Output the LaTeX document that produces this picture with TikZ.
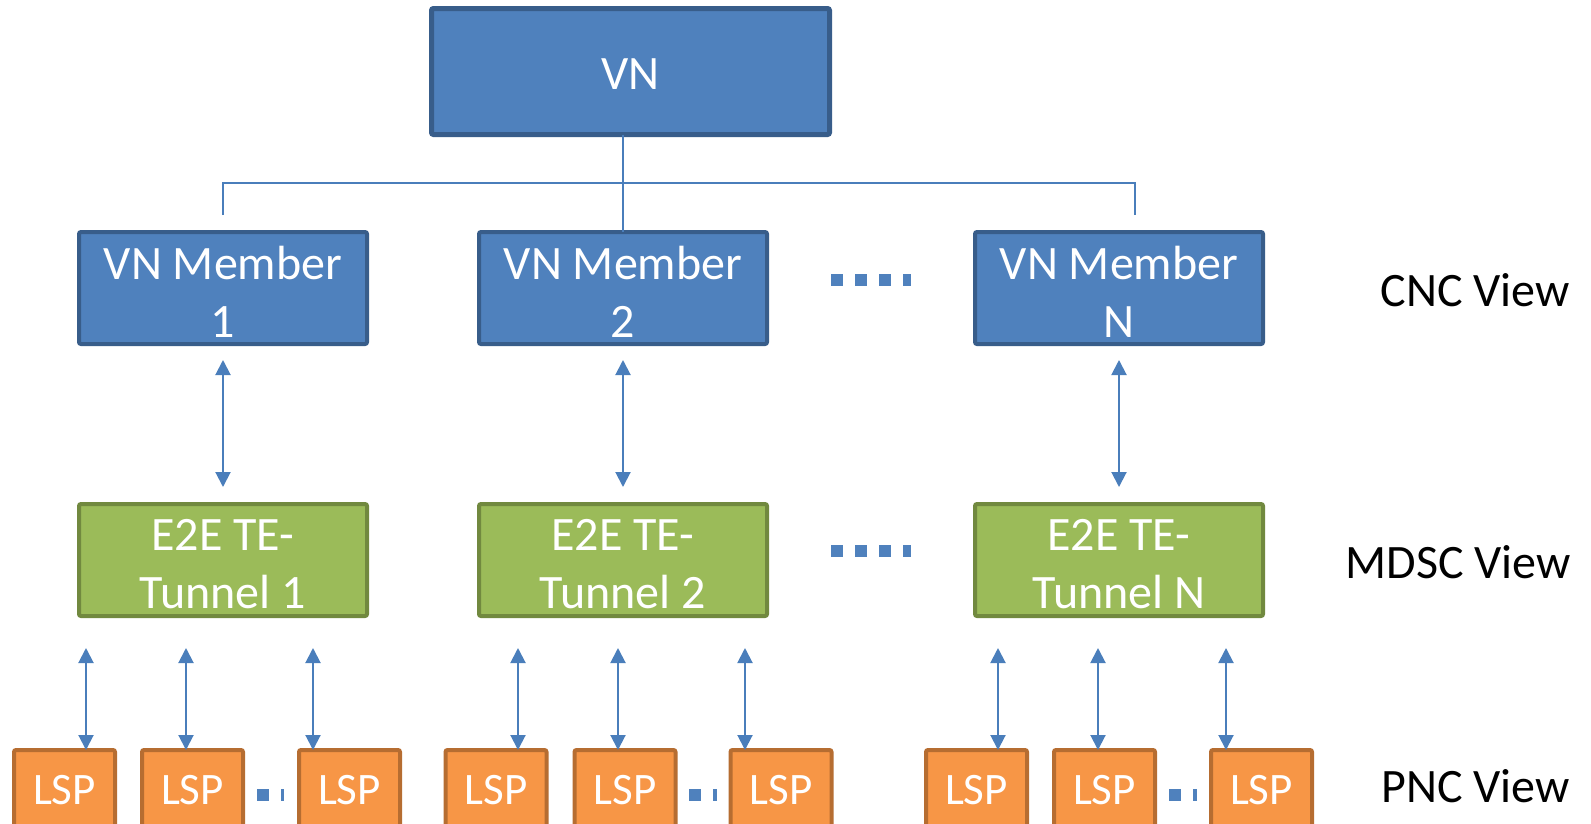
\documentclass[tikz,border=0pt]{standalone}
\usepackage{fontspec}
\setmainfont{Carlito}
\usetikzlibrary{arrows.meta}
\definecolor{bfill}{HTML}{4F81BD}
\definecolor{bdraw}{HTML}{385D8A}
\definecolor{gfill}{HTML}{9BBB59}
\definecolor{gdraw}{HTML}{71893F}
\definecolor{ofill}{HTML}{F79646}
\definecolor{odraw}{HTML}{B66D31}
\definecolor{lineblue}{HTML}{4A7EBB}
\begin{document}
\begin{tikzpicture}[x=1pt,y=-1pt,
 box/.style={rectangle, rounded corners=2pt, line width=4pt, inner sep=0pt, outer sep=0pt},
 boxtext/.style={text=white, align=center, inner sep=0pt, font=\fontsize{48}{58}\selectfont},
 bluebox/.style={box, fill=bfill, draw=bdraw, minimum width=288pt, minimum height=112pt},
 greenbox/.style={box, fill=gfill, draw=gdraw, minimum width=288pt, minimum height=112pt},
 lspbox/.style={box, fill=ofill, draw=odraw, minimum width=101pt, minimum height=80pt, text=white, font=\fontsize{45}{52}\selectfont},
 conn/.style={draw=lineblue, line width=1.5pt},
 arr/.style={draw=lineblue, line width=2pt, {Triangle[width=15pt,length=15pt]}-{Triangle[width=15pt,length=15pt]}},
 dotsq/.style={draw=bfill, line width=12pt, dash pattern=on 12pt off 12pt},
 viewlabel/.style={anchor=base east, font=\fontsize{48}{58}\selectfont, text=black, inner sep=0pt}
]
\useasboundingbox (0,0) rectangle (1591,823);
\clip (0,0) rectangle (1591,823);

% top node
\node[box, fill=bfill, draw=bdraw, line width=5pt, minimum width=398pt, minimum height=126pt] (VN) at (630.5,71.5) {};
\node[boxtext] (VNt) at ([yshift=-3pt]VN.center) {VN};

% CNC row
\node[bluebox] (M1) at (223,288) {};
\node[bluebox] (M2) at (623,288) {};
\node[bluebox] (MN) at (1119,288) {};
\node[boxtext] (M1t) at ([yshift=-4pt]M1.center) {VN Member\\1};
\node[boxtext] (M2t) at ([yshift=-4pt]M2.center) {VN Member\\2};
\node[boxtext] (MNt) at ([yshift=-4pt]MN.center) {VN Member\\N};

% MDSC row
\node[greenbox] (T1) at (223,560) {};
\node[greenbox] (T2) at (623,560) {};
\node[greenbox] (TN) at (1119,560) {};
\node[boxtext] (T1t) at ([yshift=-4pt]T1.center) {E2E TE-\\Tunnel 1};
\node[boxtext] (T2t) at ([yshift=-4pt]T2.center) {E2E TE-\\Tunnel 2};
\node[boxtext] (TNt) at ([yshift=-4pt]TN.center) {E2E TE-\\Tunnel N};

% PNC row
\node[lspbox] (L11) at (64.5,790) {LSP};
\node[lspbox] (L12) at (192.5,790) {LSP};
\node[lspbox] (L13) at (349.5,790) {LSP};
\node[lspbox] (L21) at (496,790) {LSP};
\node[lspbox] (L22) at (625,790) {LSP};
\node[lspbox] (L23) at (781,790) {LSP};
\node[lspbox] (L31) at (976.5,790) {LSP};
\node[lspbox] (L32) at (1104.5,790) {LSP};
\node[lspbox] (L33) at (1261.5,790) {LSP};

% view labels
\node[viewlabel] (cnc) at (1570,306) {CNC View};
\node[viewlabel] (mdsc) at (1571,578) {MDSC View};
\node[viewlabel] (pnc) at (1570,802) {PNC View};

% tree connector
\coordinate (jl) at (223,183);
\coordinate (jr) at (1135,183);
\coordinate (tl) at (223,215);
\coordinate (tr) at (1135,215);
\draw[conn] (VN.south -| M2.north) -- (M2.north);
\draw[conn] (tl) -- (jl) -- (jr) -- (tr);

% member to tunnel arrows
\draw[arr, shorten <=16pt, shorten >=17pt] (M1.south) -- (T1.north);
\draw[arr, shorten <=16pt, shorten >=17pt] (M2.south) -- (T2.north);
\draw[arr, shorten <=16pt, shorten >=17pt] (MN.south) -- (TN.north);

% tunnel to LSP arrows
\foreach \n/\x in {11/86,12/186,13/313,21/518,22/618,23/745,31/998,32/1098,33/1226}{
  \coordinate (a\n) at (\x,648);
  \draw[arr] (a\n) -- (a\n |- L\n.north);
}

% ellipsis dots
\draw[dotsq] (831,280) -- (911,280);
\draw[dotsq] (831,551) -- (911,551);
\draw[dotsq] (257,794.5) -- (284,794.5);
\draw[dotsq] (689,794.5) -- (717,794.5);
\draw[dotsq] (1169,794.5) -- (1197,794.5);
\end{tikzpicture}
\end{document}
